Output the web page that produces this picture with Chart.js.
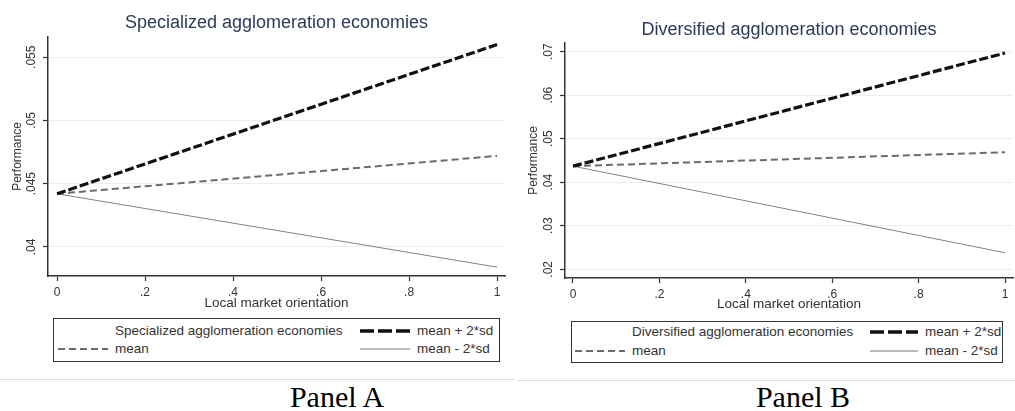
<!DOCTYPE html>
<html>
<head>
<meta charset="utf-8">
<script src="https://cdn.jsdelivr.net/npm/chart.js@4.4.0/dist/chart.umd.min.js"></script>
<style>
  body { margin: 0; background: #fff; width: 1015px; height: 411px; position: relative; overflow: hidden; font-family: Arial, "Liberation Sans", sans-serif; }
  canvas { position: absolute; top: 0; }
  .legend { position: absolute; border: 1px solid #333; box-sizing: border-box; }
  .lt { position: absolute; font-size: 13.5px; line-height: 14px; color: #333; white-space: nowrap; }
  .sample { position: absolute; }
  .sep { position: absolute; height: 1px; background: #dedede; }
  .panel { position: absolute; font-family: "Liberation Serif", "Times New Roman", serif; font-size: 30px; line-height: 30px; color: #000; transform: translateX(-50%); white-space: nowrap; }
</style>
</head>
<body>
<canvas id="chartA" width="515" height="315" style="left:0"></canvas>
<canvas id="chartB" width="500" height="315" style="left:515px"></canvas>

<div class="legend" style="left:53px;top:318px;width:447px;height:44px"></div>
<div class="lt" style="left:115px;top:324px">Specialized agglomeration economies</div>
<svg class="sample" style="left:360px;top:326px" width="50" height="10"><line x1="0" y1="5" x2="50" y2="5" stroke="#111" stroke-width="3.5" stroke-dasharray="14,4"/></svg>
<div class="lt" style="left:417px;top:324px">mean + 2*sd</div>
<svg class="sample" style="left:58px;top:344px" width="50" height="10"><line x1="0" y1="5" x2="50" y2="5" stroke="#6b6b6b" stroke-width="2" stroke-dasharray="7,4"/></svg>
<div class="lt" style="left:115px;top:342px">mean</div>
<svg class="sample" style="left:360px;top:344px" width="50" height="10"><line x1="0" y1="5" x2="50" y2="5" stroke="#777" stroke-width="1"/></svg>
<div class="lt" style="left:417px;top:342px">mean - 2*sd</div>

<div class="legend" style="left:571px;top:321px;width:432px;height:42px"></div>
<div class="lt" style="left:632px;top:325px">Diversified agglomeration economies</div>
<svg class="sample" style="left:870px;top:327px" width="48" height="10"><line x1="0" y1="5" x2="48" y2="5" stroke="#111" stroke-width="3.5" stroke-dasharray="14,4"/></svg>
<div class="lt" style="left:925px;top:325px">mean + 2*sd</div>
<svg class="sample" style="left:575px;top:346px" width="50" height="10"><line x1="0" y1="5" x2="50" y2="5" stroke="#6b6b6b" stroke-width="2" stroke-dasharray="7,4"/></svg>
<div class="lt" style="left:632px;top:344px">mean</div>
<svg class="sample" style="left:870px;top:346px" width="48" height="10"><line x1="0" y1="5" x2="48" y2="5" stroke="#777" stroke-width="1"/></svg>
<div class="lt" style="left:925px;top:344px">mean - 2*sd</div>

<div class="sep" style="left:0;top:379px;width:515px"></div>
<div class="sep" style="left:518px;top:380px;width:497px"></div>
<div class="panel" style="left:337px;top:382px">Panel A</div>
<div class="panel" style="left:803px;top:382px">Panel B</div>

<script>
// x values (local market orientation)
var xValues = [0, 1];
var xTicks = [0, 0.2, 0.4, 0.6, 0.8, 1];
var xTickLabels = ["0", ".2", ".4", ".6", ".8", "1"];

// Panel A - specialized
var specHigh = [0.0442, 0.0560];
var specMean = [0.0442, 0.0472];
var specLow = [0.0442, 0.0384];
var specYTicks = [0.04, 0.045, 0.05, 0.055];
var specYLabels = [".04", ".045", ".05", ".055"];

// Panel B - diversified
var divHigh = [0.0437, 0.0697];
var divMean = [0.0437, 0.0469];
var divLow = [0.0437, 0.0238];
var divYTicks = [0.02, 0.03, 0.04, 0.05, 0.06, 0.07];
var divYLabels = [".02", ".03", ".04", ".05", ".06", ".07"];

var FONT = "Arial, 'Liberation Sans', sans-serif";

function points(ys) {
    return xValues.map(function(x, i) { return {x: x, y: ys[i]}; });
}

function MakePanel(id, cfg) {
    var yLabelPlugin = {
        id: "yLabels",
        afterDraw: function(chart) {
            var s = chart.scales.y;
            var ctx = chart.ctx;
            ctx.save();
            ctx.fillStyle = "#333";
            ctx.font = "12px " + FONT;
            ctx.textAlign = "center";
            ctx.textBaseline = "middle";
            s.ticks.forEach(function(t, i) {
                ctx.save();
                ctx.translate(cfg.yLabelX, s.getPixelForValue(t.value));
                ctx.rotate(-Math.PI / 2);
                ctx.fillText(cfg.yLabels[i], 0, 0);
                ctx.restore();
            });
            ctx.restore();
        }
    };

    return new Chart(document.getElementById(id), {
        type: "line",
        data: {
            datasets: [
                {
                    label: "mean + 2*sd",
                    data: points(cfg.high),
                    borderColor: "#111",
                    borderWidth: 3.2,
                    borderDash: [9, 3],
                    pointRadius: 0,
                    order: 1
                },
                {
                    label: "mean",
                    data: points(cfg.mean),
                    borderColor: "#6b6b6b",
                    borderWidth: 2,
                    borderDash: [7, 4],
                    pointRadius: 0,
                    order: 2
                },
                {
                    label: "mean - 2*sd",
                    data: points(cfg.low),
                    borderColor: "#808080",
                    borderWidth: 1,
                    pointRadius: 0,
                    order: 3
                }
            ]
        },
        options: {
            responsive: false,
            animation: false,
            devicePixelRatio: 1,
            layout: { padding: { left: 0, right: cfg.padRight, top: 0, bottom: 0 } },
            plugins: {
                legend: { display: false },
                tooltip: { enabled: false },
                title: {
                    display: true,
                    fullSize: false,
                    text: cfg.title,
                    color: "#2b3a5c",
                    font: { family: FONT, size: 18, weight: "normal" },
                    padding: { top: cfg.titleTop, bottom: cfg.titleBottom }
                }
            },
            scales: {
                x: {
                    type: "linear",
                    min: cfg.xMin,
                    max: cfg.xMax,
                    afterBuildTicks: function(s) { s.ticks = xTicks.map(function(v) { return {value: v}; }); },
                    afterFit: function(s) { s.height = cfg.xHeight; },
                    ticks: {
                        autoSkip: false,
                        maxRotation: 0,
                        padding: 4,
                        color: "#333",
                        font: { family: FONT, size: 12 },
                        callback: function(v, i) { return xTickLabels[i]; }
                    },
                    grid: { drawOnChartArea: false, drawTicks: true, tickLength: 5, tickColor: "#333", tickWidth: 1.2 },
                    border: { color: "#333", width: 1.5 },
                    title: {
                        display: true,
                        text: "Local market orientation",
                        color: "#333",
                        font: { family: FONT, size: 13.5 },
                        padding: { top: 0, bottom: cfg.xTitleBottom }
                    }
                },
                y: {
                    type: "linear",
                    min: cfg.yMin,
                    max: cfg.yMax,
                    afterBuildTicks: function(s) { s.ticks = cfg.yTicks.map(function(v) { return {value: v}; }); },
                    afterFit: function(s) { s.width = cfg.yWidth; },
                    ticks: { display: false },
                    grid: { color: "#e6eff1", lineWidth: 1, drawTicks: true, tickLength: 5, tickColor: "#333", tickWidth: 1.2 },
                    border: { color: "#333", width: 1.5 },
                    title: {
                        display: true,
                        text: "Performance",
                        color: "#333",
                        font: { family: FONT, size: 12 },
                        padding: { top: cfg.yTitleTop, bottom: 0 }
                    }
                }
            }
        },
        plugins: [yLabelPlugin]
    });
}

MakePanel("chartA", {
    title: "Specialized agglomeration economies",
    high: specHigh, mean: specMean, low: specLow,
    yTicks: specYTicks, yLabels: specYLabels,
    yMin: 0.0377, yMax: 0.0566,
    xMin: -0.0205, xMax: 1.018,
    yWidth: 48, xHeight: 39, padRight: 10,
    titleTop: 12.7, titleBottom: 2.7,
    xTitleBottom: 3.9, yTitleTop: 10.8, yLabelX: 31.5
});

MakePanel("chartB", {
    title: "Diversified agglomeration economies",
    high: divHigh, mean: divMean, low: divLow,
    yTicks: divYTicks, yLabels: divYLabels,
    yMin: 0.018, yMax: 0.072,
    xMin: -0.0185, xMax: 1.0185,
    yWidth: 50, xHeight: 37, padRight: 2,
    titleTop: 19.2, titleBottom: 2.2,
    xTitleBottom: 2.9, yTitleTop: 11.8, yLabelX: 33.5
});
</script>
</body>
</html>
